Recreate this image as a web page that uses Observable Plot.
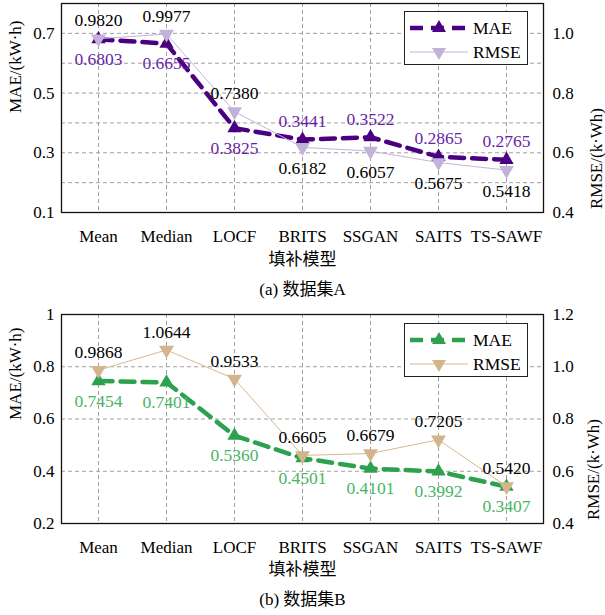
<!DOCTYPE html>
<html><head><meta charset="utf-8">
<script src="https://cdn.jsdelivr.net/npm/d3@7"></script>
<script src="https://cdn.jsdelivr.net/npm/@observablehq/plot@0.6"></script>
<style>
body{margin:0;background:#fff;font-family:"Liberation Serif","Noto Sans CJK SC",serif;}
.panel{position:relative;width:605px;}
.legend{position:absolute;background:#fff;border:1px solid #222;box-sizing:border-box;font-size:17.5px;color:#000;}
.legend .row{position:absolute;left:0;display:flex;align-items:center;height:24px;}
.legend svg{display:block;}
</style></head><body>
<div id="a" class="panel"></div><div id="b" class="panel"></div>
<script>
const models = ["Mean","Median","LOCF","BRITS","SSGAN","SAITS","TS-SAWF"];
const maeA = [0.6803,0.6655,0.3825,0.3441,0.3522,0.2865,0.2765];
const rmseA = [0.9820,0.9977,0.7380,0.6182,0.6057,0.5675,0.5418];
const maeB = [0.7454,0.7401,0.5360,0.4501,0.4101,0.3992,0.3407];
const rmseB = [0.9868,1.0644,0.9533,0.6605,0.6679,0.7205,0.5420];
const maeTicksA = [0.1,0.3,0.5,0.7];
const rmseTicksA = [0.4,0.6,0.8,1.0];
const maeTicksB = [0.2,0.4,0.6,0.8,1];
const rmseTicksB = [0.4,0.6,0.8,1.0,1.2];
const gridA = [0.2,0.3,0.4,0.5,0.6,0.7];
const gridB = [0.4,0.6,0.8];
const maeDomainA = [0.1,0.8], maeDomainB = [0.2,1.0];
const rmseShiftA = 0.3, rmseShiftB = 0.2; // right axis = left axis + shift
const captions = ["(a) 数据集A","(b) 数据集B"];
const xTitle = "填补模型";
const maeLabel = "MAE/(kW·h)", rmseLabel = "RMSE/(k·Wh)";
const seriesNames = ["MAE","RMSE"];

const FONT = '"Liberation Serif","Noto Sans CJK SC",serif';
const sqrt3 = Math.sqrt(3);
const triDown = {draw(ctx, size){ const y = -Math.sqrt(size/(sqrt3*3)); ctx.moveTo(0,-y*2); ctx.lineTo(-sqrt3*y, y); ctx.lineTo(sqrt3*y, y); ctx.closePath(); }};

function panel(o){
  const rows = models.map((m,i)=>({model:m, mae:o.mae[i], rmse:o.rmse[i], rmseY:o.rmse[i]-o.shift}));
  const up = d => d.rmseY >= d.mae;
  const grid = {stroke:"#a0a0a0", strokeOpacity:1, strokeDasharray:"4,3", strokeWidth:1};
  const plotH = 209;
  const lab = {fontSize:17.5};
  return Plot.plot({
    width:605, height:o.height, marginLeft:61, marginRight:62, marginTop:o.marginTop,
    marginBottom:o.height - o.marginTop - plotH,
    style:{fontFamily:FONT, fontSize:"17px", background:"#fff", color:"#000", overflow:"visible"},
    x:{type:"point", domain:models, padding:0.5},
    y:{domain:o.domain},
    marks:[
      Plot.gridY(o.grid, grid),
      Plot.gridX(models, grid),
      Plot.axisY(o.ticksL, {anchor:"left", tickSize:0, tickPadding:7, tickFormat:d=>String(d), label:null}),
      Plot.axisY(o.ticksR.map(t=>t-o.shift), {anchor:"right", tickSize:0, tickPadding:9, tickFormat:d=>(d+o.shift).toFixed(1), label:null}),
      Plot.axisX(models, {tickSize:0, tickPadding:17, label:null}),
      Plot.frame({stroke:"#111", strokeWidth:1.3}),
      Plot.line(rows, {x:"model", y:"mae", stroke:o.maeColor, strokeWidth:4.5, strokeDasharray:"14,8"}),
      Plot.dot(rows, {x:"model", y:"mae", symbol:"triangle", r:5.3, fill:o.maeColor, stroke:"none"}),
      Plot.line(rows, {x:"model", y:"rmseY", stroke:o.rmseLine, strokeWidth:1}),
      Plot.dot(rows, {x:"model", y:"rmseY", symbol:triDown, r:5.5, fill:o.rmseColor, stroke:"none"}),
      Plot.text(rows, {...lab, filter:up, x:"model", y:"rmseY", text:d=>d.rmse.toFixed(4), dy:-18, fill:"#000"}),
      Plot.text(rows, {...lab, filter:d=>!up(d), x:"model", y:"rmseY", text:d=>d.rmse.toFixed(4), dy:21, fill:"#000"}),
      Plot.text(rows, {...lab, filter:d=>!up(d), x:"model", y:"mae", text:d=>d.mae.toFixed(4), dy:-18, fill:o.maeText}),
      Plot.text(rows, {...lab, filter:up, x:"model", y:"mae", text:d=>d.mae.toFixed(4), dy:20, fill:o.maeText}),
      Plot.text([xTitle], {frameAnchor:"bottom", dy:o.titleDy, text:d=>d, fill:"#000"}),
      Plot.text([o.caption], {frameAnchor:"bottom", dy:o.titleDy+30, text:d=>d, fill:"#000"}),
      Plot.text([maeLabel], {frameAnchor:"left", dx:-46, dy:o.labelDy, rotate:-90, text:d=>d, fill:"#000"}),
      Plot.text([rmseLabel], {frameAnchor:"right", dx:o.rightDx, rotate:-90, text:d=>d, fill:"#000"})
    ]
  });
}

function legend(o){
  const div = document.createElement("div");
  div.className = "legend";
  Object.assign(div.style, {left:"404px", top:o.top+"px", width:"124px", height:"54px"});
  const mk = (y, name, line) => {
    const r = document.createElement("div");
    r.className = "row"; r.style.top = y+"px";
    r.innerHTML = `<svg width="63" height="24" style="margin-left:5px">${line}</svg><span>${name}</span>`;
    div.appendChild(r);
  };
  const s = 14, h = 12;
  mk(4, seriesNames[0], `<line x1="0" x2="58" y1="12" y2="12" stroke="${o.maeColor}" stroke-width="4.5" stroke-dasharray="13,8"/>
     <path d="M${29-s/2},${12+h/3}L29,${12-2*h/3}L${29+s/2},${12+h/3}Z" fill="${o.maeColor}"/>`);
  mk(28, seriesNames[1], `<line x1="0" x2="58" y1="12" y2="12" stroke="${o.rmseLine}" stroke-width="1"/>
     <path d="M${29-s/2},${12-h/3}L29,${12+2*h/3}L${29+s/2},${12-h/3}Z" fill="${o.rmseColor}"/>`);
  return div;
}

const cfgA = {mae:maeA, rmse:rmseA, shift:rmseShiftA, domain:maeDomainA, ticksL:maeTicksA, ticksR:rmseTicksA, grid:gridA,
  caption:captions[0], height:300, marginTop:3, titleDy:52, labelDy:5, rightDx:53,
  maeColor:"#4b0082", maeText:"#6a1fa8", rmseColor:"#c2b2da", rmseLine:"#c4b4dc"};
const cfgB = {mae:maeB, rmse:rmseB, shift:rmseShiftB, domain:maeDomainB, ticksL:maeTicksB, ticksR:rmseTicksB, grid:gridB,
  caption:captions[1], height:315, marginTop:14, titleDy:51, labelDy:1, rightDx:50,
  maeColor:"#2ca24f", maeText:"#47b563", rmseColor:"#d3b48c", rmseLine:"#d6b990"};

const A = document.getElementById("a");
A.appendChild(panel(cfgA));
A.appendChild(legend({...cfgA, top:11}));
const B = document.getElementById("b");
B.appendChild(panel(cfgB));
B.appendChild(legend({...cfgB, top:23}));
</script>
</body></html>
